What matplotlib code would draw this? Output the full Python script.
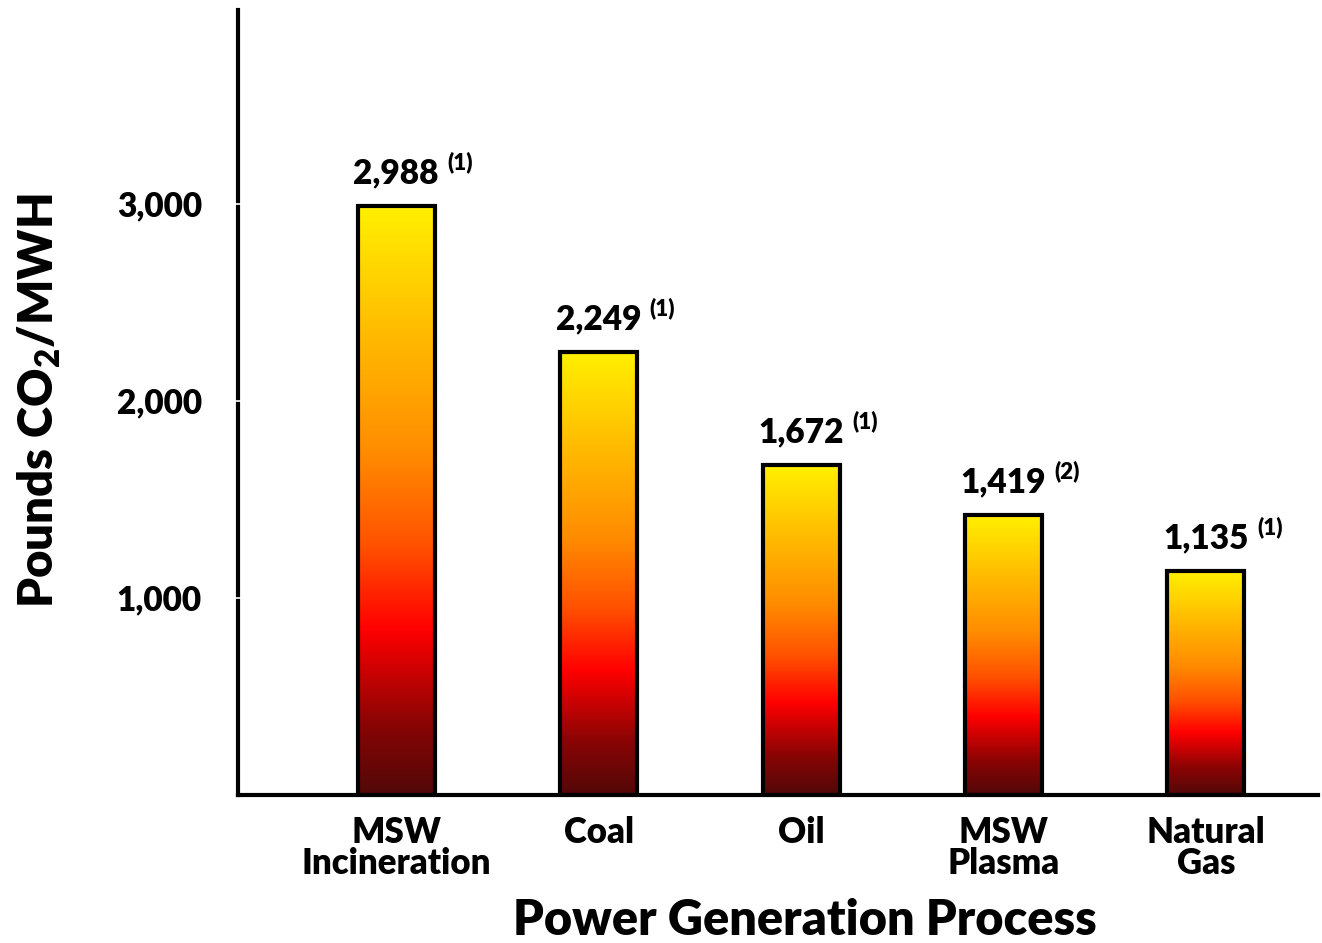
import matplotlib
matplotlib.use("Agg")
import matplotlib.pyplot as plt
import numpy as np
from matplotlib.colors import LinearSegmentedColormap

categories = ["MSW\nIncineration", "Coal", "Oil", "MSW\nPlasma", "Natural\nGas"]
values = [2988, 2249, 1672, 1419, 1135]
value_labels = ["2,988", "2,249", "1,672", "1,419", "1,135"]
notes = ["(1)", "(1)", "(1)", "(2)", "(1)"]
yticks = [1000, 2000, 3000]
ytick_labels = ["1,000", "2,000", "3,000"]

FONT = "Lato"
W = "heavy"
plt.rcParams["font.family"] = [FONT, "DejaVu Sans"]
plt.rcParams["mathtext.fontset"] = "custom"
plt.rcParams["mathtext.rm"] = FONT
plt.rcParams["mathtext.bf"] = FONT + ":heavy"

fig = plt.figure(figsize=(13.22, 9.43), dpi=100)
ax = fig.add_axes([0.180, 0.157, 0.817, 0.832])

cmap = LinearSegmentedColormap.from_list(
    "heat",
    [(0.0, "#520808"), (0.12, "#8a0404"), (0.28, "#ff0000"), (0.42, "#ff5000"),
     (0.58, "#ff8c00"), (0.80, "#ffbf00"), (1.0, "#fff000")])
grad = np.linspace(0, 1, 256).reshape(-1, 1)

x = np.arange(len(categories))
width = 0.38
bars = ax.bar(x, values, width=width, facecolor="none", edgecolor="black",
              linewidth=3, zorder=3)
for b in bars:
    b.set_joinstyle("miter")
    bx, by = b.get_x(), b.get_y()
    bw, bh = b.get_width(), b.get_height()
    im = ax.imshow(grad, cmap=cmap, origin="lower", aspect="auto",
                   extent=[bx, bx + bw, by, by + bh], zorder=2)
    im.set_clip_path(b)

for xi, v, lab, note in zip(x, values, value_labels, notes):
    t = ax.annotate(lab, (xi, v), xytext=(0, 12), textcoords="offset points",
                    ha="center", va="bottom", fontsize=24, fontweight=W)
    ax.annotate(note, xy=(1, 0.5), xycoords=t, xytext=(6, 0),
                textcoords="offset points", ha="left", va="bottom",
                fontsize=16, fontweight=W)

ax.set_xlim(-0.782, 4.554)
ax.set_ylim(0, 3980)
ax.set_xticks(x)
ax.set_xticklabels(categories, fontsize=25, fontweight=W, linespacing=0.95)
ax.set_yticks(yticks)
ax.set_yticklabels(ytick_labels, fontsize=24, fontweight=W)
ax.tick_params(axis="x", length=0, pad=15)
ax.tick_params(axis="y", length=4, width=1.2, color="white", direction="inout", pad=24)

for s in ["top", "right"]:
    ax.spines[s].set_visible(False)
ax.spines["left"].set_linewidth(3)
ax.spines["bottom"].set_linewidth(3)
ax.spines["left"].set_zorder(1)

fig.text(0.030, 0.575, "Pounds CO$_\\mathbf{2}$/MWH", fontsize=34, fontweight=W,
         rotation=90, ha="center", va="center")
fig.text(0.609, 0.009, "Power Generation Process", fontsize=35, fontweight=W,
         ha="center", va="baseline")

fig.savefig("out.png", dpi=100)
